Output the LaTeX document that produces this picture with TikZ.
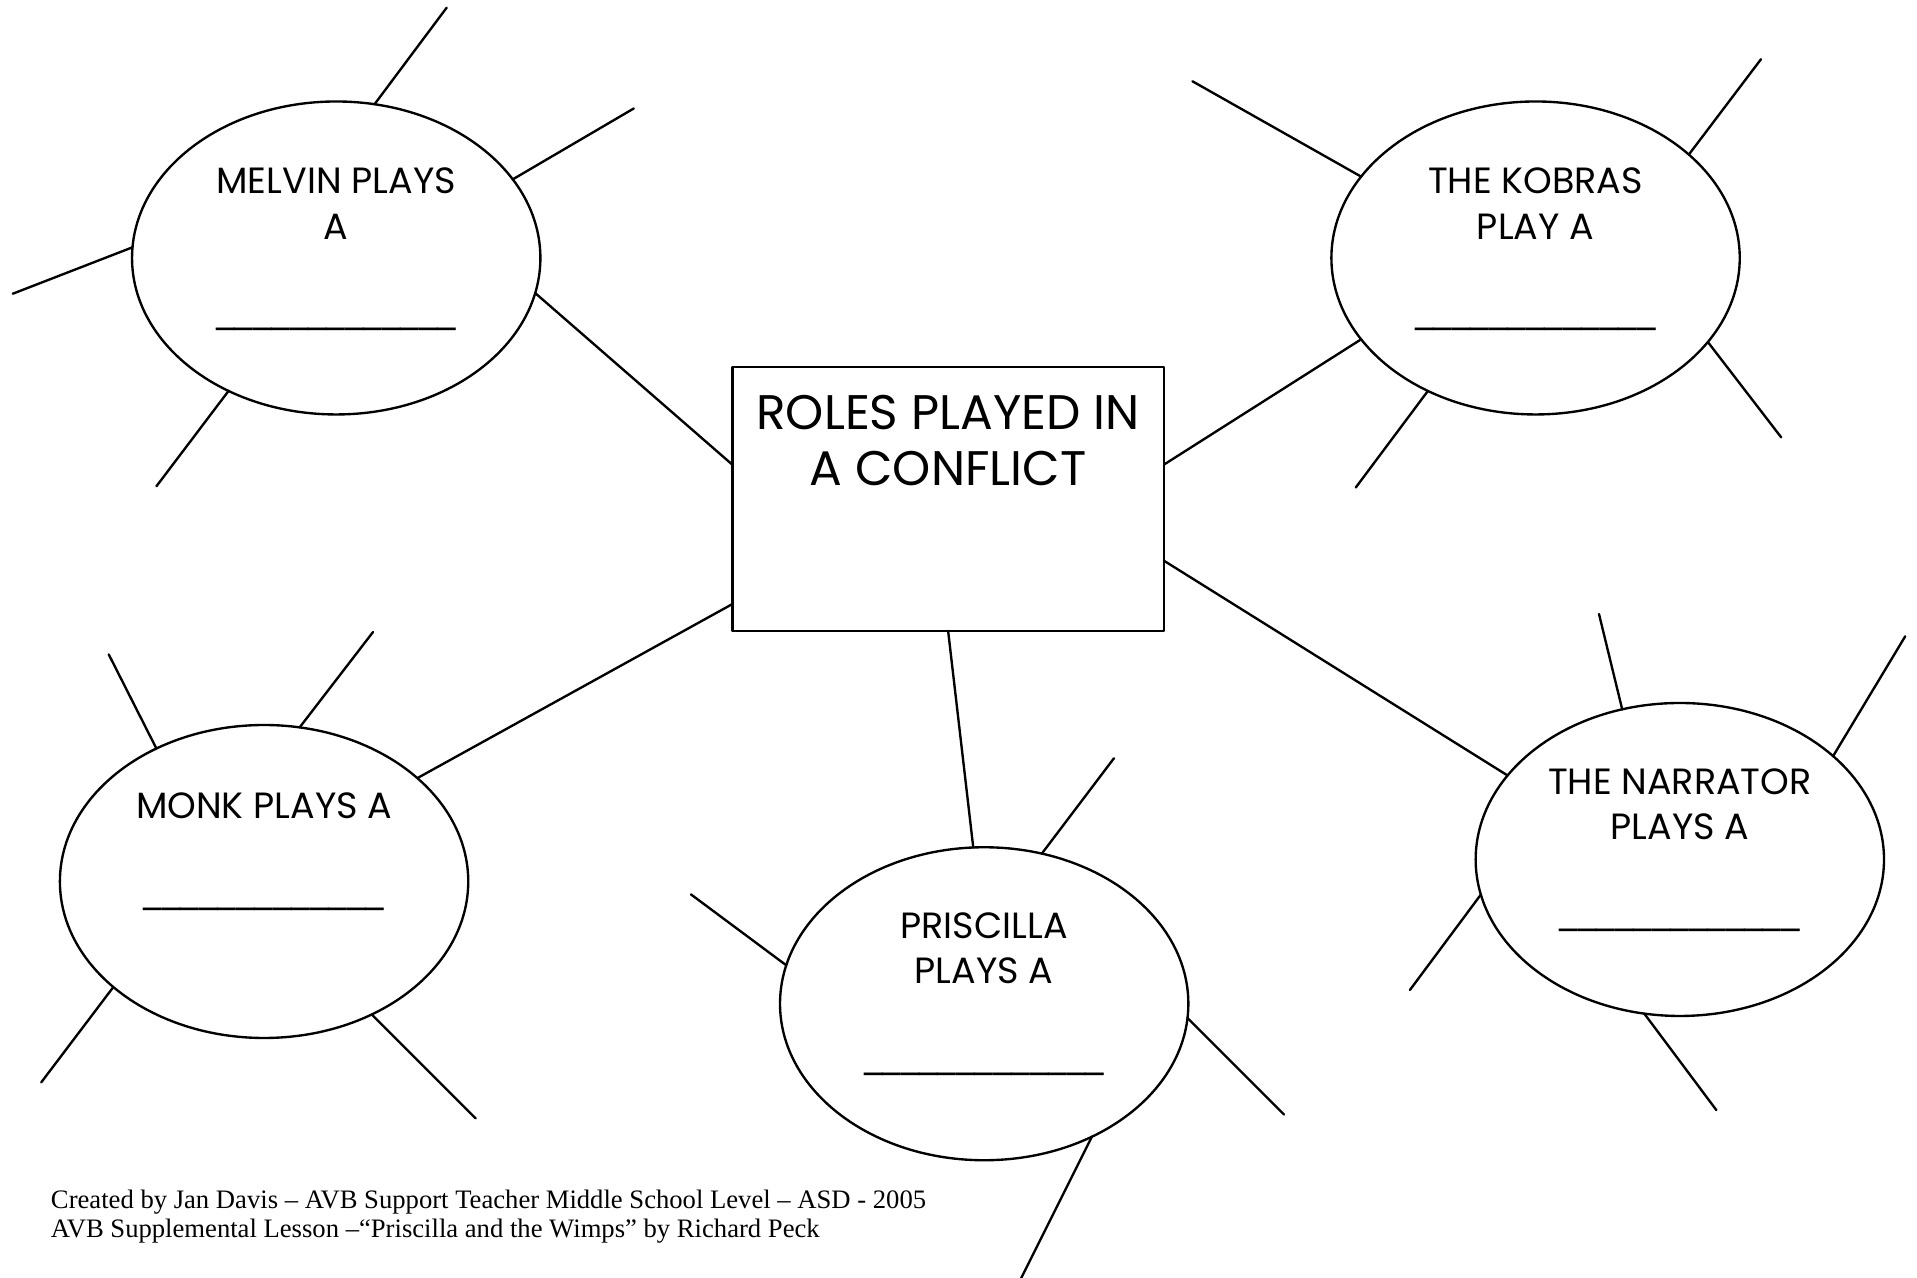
\documentclass[tikz,border=0pt]{standalone}
\usepackage{fontspec}
\setmainfont{Liberation Serif}
\newfontfamily\comic{Poppins}
\usepackage{tikz}
\usetikzlibrary{calc,shapes.geometric}
\tikzset{
  base/.style={draw=black, line width=0.55pt, line cap=round, line join=round},
  role/.style={base, ellipse, minimum width=3.34cm, minimum height=2.56cm, inner sep=0pt, outer sep=0pt},
  topic/.style={base, rectangle, minimum width=3.53cm, minimum height=2.16cm, inner sep=0pt, outer sep=0pt},
  lab/.style={font=\comic\fontsize{8.5}{10.5}\selectfont, align=center, inner sep=0pt},
  labbig/.style={font=\comic\fontsize{11.3}{13}\selectfont, align=center, inner sep=0pt},
  blank/.style={font=\rmfamily\fontsize{8.6}{10}\selectfont\bfseries, inner sep=0pt},
  note/.style={font=\fontsize{6.2}{6.6}\selectfont, align=left, inner sep=0pt, anchor=base west}
}
\newcommand{\blankfill}{\_\_\_\_\_\_\_\_\_\_\_\_\_}

\begin{document}
\begin{tikzpicture}
  \useasboundingbox (0,0) rectangle (15.68,-10.45);

  % centre box
  \node[topic] (conflict) at (7.755,-4.08) {};
  \node[labbig] (conflictlab) at (7.755,-3.60) {ROLES PLAYED IN\\A CONFLICT};

  % the five roles
  \node[role] (melvin)    at (2.75,-2.11) {};
  \node[role] (kobras)    at (12.56,-2.11) {};
  \node[role] (monk)      at (2.16,-7.21) {};
  \node[role] (priscilla) at (8.05,-8.21) {};
  \node[role] (narrator)  at (13.74,-7.03) {};

  \node[lab] (melvinlab)    at (2.75,-1.665) {MELVIN PLAYS\\A};
  \node[lab] (kobraslab)    at (12.56,-1.665) {THE KOBRAS\\PLAY A};
  \node[lab] (monklab)      at (2.16,-6.59) {MONK PLAYS A};
  \node[lab] (priscillalab) at (8.05,-7.755) {PRISCILLA\\PLAYS A};
  \node[lab] (narratorlab)  at (13.74,-6.575) {THE NARRATOR\\PLAYS A};

  \node[blank] (melvinblank)    at (2.75,-2.68) {\blankfill};
  \node[blank] (kobrasblank)    at (12.56,-2.68) {\blankfill};
  \node[blank] (monkblank)      at (2.16,-7.43) {\blankfill};
  \node[blank] (priscillablank) at (8.05,-8.78) {\blankfill};
  \node[blank] (narratorblank)  at (13.74,-7.60) {\blankfill};

  % connectors
  \draw[base] (conflict.171)   -- (melvin.350);
  \draw[base] (conflict.9.3)   -- (kobras.205.6);
  \draw[base] (conflict.206.5) -- (monk.34.2);
  \draw[base] (conflict.270)   -- (priscilla.94.5);
  \draw[base] (conflict.344.2) -- (narrator.154.7);

  % rays
  \foreach \a/\dx/\dy in {76.6/0.59/0.79, 24.8/0.99/0.58, 177.3/-0.98/-0.38, 231/-0.59/-0.78}
    \draw[base] (melvin.\a) -- ++(\dx,\dy);
  \foreach \a/\dx/\dy in {155/-1.38/0.78, 34.5/0.59/0.78, 231/-0.59/-0.79, 334.5/0.60/-0.78}
    \draw[base] (kobras.\a) -- ++(\dx,\dy);
  \foreach \a/\dx/\dy in {129.5/-0.39/0.77, 77/0.60/0.78, 215.1/-0.59/-0.78, 309.2/0.85/-0.85}
    \draw[base] (monk.\a) -- ++(\dx,\dy);
  \foreach \a/\dx/\dy in {69/0.59/0.78, 169.8/-0.78/0.58, 356.9/0.79/-0.79, 309.2/-0.58/-1.16}
    \draw[base] (priscilla.\a) -- ++(\dx,\dy);
  \foreach \a/\dx/\dy in {111/-0.19/0.78, 34.5/0.59/0.98, 190.2/-0.58/-0.78, 257.1/0.59/-0.79}
    \draw[base] (narrator.\a) -- ++(\dx,\dy);

  % footer
  \node[note] (credit) at (0.41,-10.12) {Created by Jan Davis – AVB Support Teacher Middle School Level – ASD - 2005\\AVB Supplemental Lesson –“Priscilla and the Wimps” by Richard Peck};
\end{tikzpicture}
\end{document}
